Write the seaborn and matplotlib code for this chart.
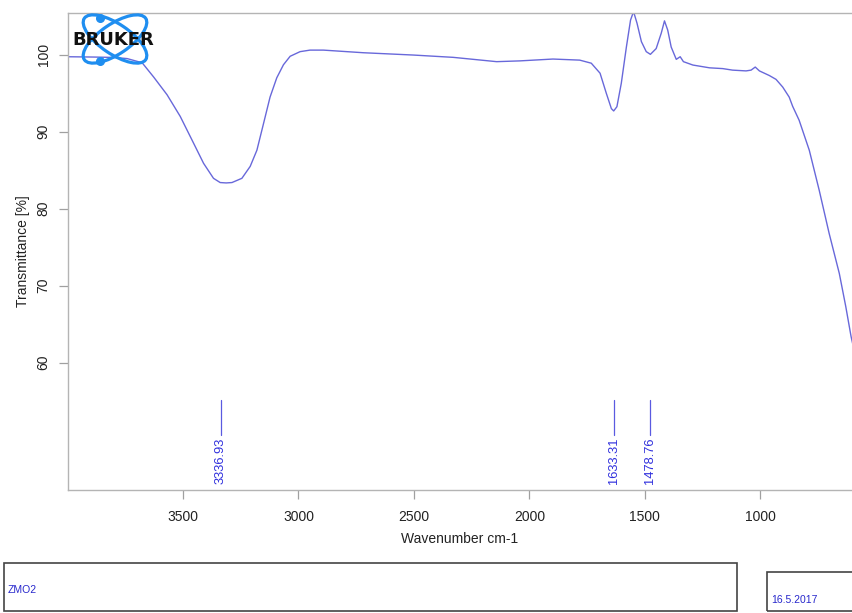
import matplotlib
matplotlib.use("Agg")
import matplotlib.pyplot as plt
from matplotlib.patches import Ellipse, Rectangle
import seaborn as sns
import pandas as pd

# ---- data ----
wavenumber = [3999, 3888, 3800, 3742, 3677, 3627, 3569, 3512, 3454, 3411, 3368, 3339,
              3313, 3288, 3245, 3209, 3180, 3151, 3123, 3094, 3065, 3036, 2993, 2950,
              2892, 2719, 2503, 2330, 2142, 2042, 1898, 1782, 1732, 1694, 1667, 1645,
              1635, 1621, 1602, 1580, 1562, 1549, 1534, 1515, 1494, 1476, 1451, 1429,
              1415, 1401, 1386, 1364, 1347, 1333, 1292, 1250, 1220, 1163, 1120, 1062,
              1040, 1022, 1004, 961, 932, 903, 875, 860, 832, 788, 745, 702, 658, 630,
              607, 598]
transmittance = [99.74, 99.70, 99.65, 99.50, 98.96, 97.10, 94.80, 91.99, 88.50, 85.90,
                 83.95, 83.40, 83.35, 83.40, 83.95, 85.50, 87.60, 91.10, 94.50, 97.00,
                 98.70, 99.80, 100.40, 100.60, 100.60, 100.26, 99.96, 99.66, 99.10,
                 99.20, 99.44, 99.30, 98.90, 97.60, 95.00, 93.00, 92.70, 93.25, 96.30,
                 101.00, 104.50, 105.60, 104.10, 101.70, 100.40, 100.05, 100.80,
                 102.80, 104.40, 103.20, 101.00, 99.40, 99.74, 99.10, 98.66, 98.45,
                 98.30, 98.20, 98.00, 97.90, 98.00, 98.40, 97.90, 97.30, 96.80, 95.80,
                 94.50, 93.30, 91.50, 87.60, 82.40, 76.80, 71.60, 67.30, 63.40, 62.20]
peak_positions = [3336.93, 1633.31, 1478.76]
peak_labels = ["3336.93", "1633.31", "1478.76"]
x_ticks = [3500, 3000, 2500, 2000, 1500, 1000]
y_ticks = [60, 70, 80, 90, 100]
sample_name = "ZMO2"
date_text = "16.5.2017"

sns.set_theme(style="white")
plt.rcParams["font.family"] = ["Liberation Sans", "DejaVu Sans"]

W, H = 852, 613
fig = plt.figure(figsize=(W / 100, H / 100), dpi=100)
fig.patch.set_facecolor("white")

left, right, top, bottom = 68, 852, 13, 490
ax = fig.add_axes([left / W, 1 - bottom / H, (right - left) / W, (bottom - top) / H])
ax.set_facecolor("white")

df = pd.DataFrame({"Wavenumber": wavenumber, "Transmittance": transmittance})
sns.lineplot(data=df, x="Wavenumber", y="Transmittance", ax=ax, sort=False,
             estimator=None, color="#6868da", linewidth=1.0)

ax.set_xlim(3998, 603)
ax.set_ylim(43.47, 105.42)
ax.set_xticks(x_ticks)
ax.set_yticks(y_ticks)
ax.set_xticklabels([str(t) for t in x_ticks])
ax.set_yticklabels([str(t) for t in y_ticks], rotation=90, va="center")

for side in ["left", "top", "bottom"]:
    ax.spines[side].set_visible(True)
    ax.spines[side].set_color("#b4b4b4")
    ax.spines[side].set_linewidth(1.0)
ax.spines["right"].set_visible(False)

ax.tick_params(axis="both", which="major", direction="out", length=6.5, width=0.9,
               color="#a0a0a0", labelsize=10, labelcolor="#222222",
               bottom=True, left=True, top=False, right=False)
ax.tick_params(axis="x", pad=8)
ax.tick_params(axis="y", pad=6)

ax.set_xlabel("Wavenumber cm-1", fontsize=10, color="#222222", labelpad=6)
ax.set_ylabel("Transmittance [%]", fontsize=10, color="#222222", labelpad=5)

# peak annotations
for pos, lab in zip(peak_positions, peak_labels):
    ax.plot([pos, pos], [55.2, 50.6], color="#5a5ae0", linewidth=0.9)
    ax.text(pos, 50.3, lab, rotation=90, ha="center", va="top",
            fontsize=9.3, color="#3030dd")

# bottom info boxes
fig.add_artist(Rectangle((4 / W, 1 - 611 / H), 733 / W, 48 / H, transform=fig.transFigure,
                         fill=False, edgecolor="#444444", linewidth=1.2))
fig.add_artist(Rectangle((767 / W, 1 - 611 / H), 100 / W, 39 / H, transform=fig.transFigure,
                         fill=False, edgecolor="#444444", linewidth=1.2, clip_on=False))
fig.text(8 / W, 1 - 590 / H, sample_name, fontsize=7.5, color="#2828cc", va="center", ha="left")
fig.text(771 / W, 1 - 600 / H, date_text, fontsize=7.5, color="#2828cc", va="center", ha="left")

# logo
lax = fig.add_axes([66 / W, 1 - 68 / H, 104 / W, 58 / H])
lax.set_xlim(66, 170)
lax.set_ylim(68, 10)
lax.axis("off")
lax.patch.set_alpha(0)
for ang in (34, -34):
    lax.add_patch(Ellipse((115, 39), 74, 30, angle=ang, fill=False,
                          edgecolor="#1f8ef0", linewidth=2.3))
lax.plot([100, 100], [17.5, 61], linestyle="none", marker="o", markersize=5.5,
         color="#1f8ef0")
lax.text(113, 40, "BRUKER", fontsize=13, fontweight="black", color="#111111",
         ha="center", va="center", family="DejaVu Sans")

fig.savefig("out.png", dpi=100, facecolor="white")
